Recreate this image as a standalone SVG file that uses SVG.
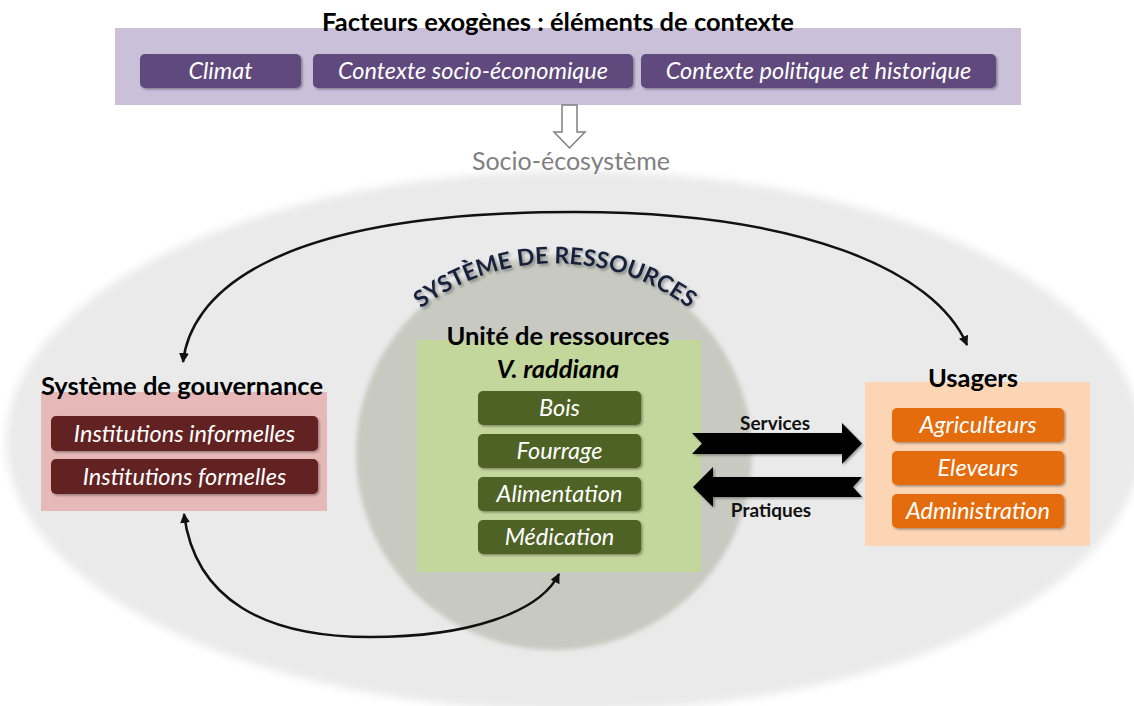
<svg xmlns="http://www.w3.org/2000/svg" width="1134" height="706" viewBox="0 0 1134 706">
<defs>
<style>
.ttl{font-family:Lato,"Liberation Sans",sans-serif;font-weight:bold;fill:#000;text-anchor:middle;font-size:25.5px}
.itm{font-family:Lato,"Liberation Sans",sans-serif;font-style:italic;fill:#fff;text-anchor:middle;font-size:23.5px}
.lbl{font-family:Lato,"Liberation Sans",sans-serif;font-weight:bold;fill:#111;text-anchor:middle;font-size:19px}
.conn{fill:none;stroke:#111;stroke-width:2.5}
</style>
<filter id="blur" x="-5%" y="-5%" width="110%" height="110%"><feGaussianBlur stdDeviation="4"/></filter>
<filter id="blur2" x="-5%" y="-5%" width="110%" height="110%"><feGaussianBlur stdDeviation="2"/></filter>
<filter id="sh" x="-10%" y="-20%" width="130%" height="160%"><feDropShadow dx="1.5" dy="1.5" stdDeviation="1.2" flood-color="#000" flood-opacity="0.35"/></filter>
<filter id="glow" x="-10%" y="-10%" width="120%" height="130%"><feDropShadow dx="2" dy="2" stdDeviation="1.5" flood-color="#000" flood-opacity="0.35"/></filter>
<marker id="ah" viewBox="0 0 10 10" refX="9" refY="5" markerWidth="4" markerHeight="4" orient="auto-start-reverse" markerUnits="strokeWidth"><path d="M0,0 L10,5 L0,10 z" fill="#111"/></marker>
<path id="arcText" d="M 383 345 A 222 222 0 0 1 727 345"/>
</defs>
<rect width="1134" height="706" fill="#fff"/>
<ellipse cx="574" cy="441" rx="568" ry="270" fill="#EAEAEA" filter="url(#blur)"/>
<ellipse cx="554" cy="453" rx="198" ry="197" fill="#C8CAC1" filter="url(#blur2)"/>

<g id="contexte">
<rect x="115" y="28" width="906" height="77" fill="#CBC0DA"/>
<text class="ttl" x="558" y="31">Facteurs exogènes : éléments de contexte</text>
<rect x="140" y="54" width="161" height="34" rx="5" fill="#604A7B" filter="url(#sh)"/>
<text class="itm" x="220.5" y="79">Climat</text>
<rect x="313" y="54" width="320" height="34" rx="5" fill="#604A7B" filter="url(#sh)"/>
<text class="itm" x="473" y="79">Contexte socio-économique</text>
<rect x="641" y="54" width="355" height="34" rx="5" fill="#604A7B" filter="url(#sh)"/>
<text class="itm" x="818.5" y="79">Contexte politique et historique</text>
</g>

<g id="fleche-socio">
<path d="M562,105 L577,105 L577,132 L585,132 L569.5,148 L554,132 L562,132 Z" fill="#fff" stroke="#7F7F7F" stroke-width="1.5"/>
<text x="571" y="170" font-family="Lato,'Liberation Sans',sans-serif" font-size="25" fill="#7F7F7F" text-anchor="middle">Socio-écosystème</text>
</g>

<g id="systeme-ressources">
<text font-family="Lato,'Liberation Sans',sans-serif" font-weight="bold" font-size="23" fill="#17203A" filter="url(#glow)"><textPath href="#arcText" startOffset="50%" text-anchor="middle">SYSTÈME DE RESSOURCES</textPath></text>
</g>

<g id="unite-ressources">
<rect x="417" y="340" width="284" height="232" fill="#C3D69B"/>
<text class="ttl" x="558" y="345">Unité de ressources</text>
<text class="ttl" x="558" y="378" font-style="italic">V. raddiana</text>
<rect x="478" y="391" width="163" height="34" rx="5" fill="#4F6228" filter="url(#sh)"/>
<text class="itm" x="559.5" y="416">Bois</text>
<rect x="478" y="434" width="163" height="34" rx="5" fill="#4F6228" filter="url(#sh)"/>
<text class="itm" x="559.5" y="459">Fourrage</text>
<rect x="478" y="477" width="163" height="34" rx="5" fill="#4F6228" filter="url(#sh)"/>
<text class="itm" x="559.5" y="502">Alimentation</text>
<rect x="478" y="520" width="163" height="34" rx="5" fill="#4F6228" filter="url(#sh)"/>
<text class="itm" x="559.5" y="545">Médication</text>
</g>

<g id="gouvernance">
<rect x="41" y="392" width="286" height="119" fill="#E6B9B8"/>
<text class="ttl" x="182" y="395">Système de gouvernance</text>
<rect x="51" y="416" width="267" height="35" rx="5" fill="#632423" filter="url(#sh)"/>
<text class="itm" x="184.5" y="442">Institutions informelles</text>
<rect x="51" y="459" width="267" height="35" rx="5" fill="#632423" filter="url(#sh)"/>
<text class="itm" x="184.5" y="485">Institutions formelles</text>
</g>

<g id="usagers">
<rect x="865" y="382" width="225" height="164" fill="#FCD5B5"/>
<text class="ttl" x="973" y="387">Usagers</text>
<rect x="892" y="408" width="172" height="34" rx="5" fill="#E46C0A" filter="url(#sh)"/>
<text class="itm" x="978" y="433">Agriculteurs</text>
<rect x="892" y="451" width="172" height="34" rx="5" fill="#E46C0A" filter="url(#sh)"/>
<text class="itm" x="978" y="476">Eleveurs</text>
<rect x="892" y="494" width="172" height="34" rx="5" fill="#E46C0A" filter="url(#sh)"/>
<text class="itm" x="978" y="519">Administration</text>
</g>

<g id="connecteurs">
<path class="conn" d="M183,362 C190,300 260,212 575,212 C800,212 935,270 967,345" marker-start="url(#ah)" marker-end="url(#ah)"/>
<path class="conn" d="M184,514 C195,600 265,637 370,637 C470,637 540,612 559,574" marker-start="url(#ah)" marker-end="url(#ah)"/>
<path d="M692,433 L842,433 L842,423 L862,443.5 L842,464 L842,454 L692,454 L702,443.5 Z" fill="#000" filter="url(#sh)"/>
<path d="M862,477 L713,477 L713,467 L693,487 L713,507 L713,497 L862,497 L853,487 Z" fill="#000" filter="url(#sh)"/>
<text class="lbl" x="775" y="430">Services</text>
<text class="lbl" x="771" y="517">Pratiques</text>
</g>
</svg>
